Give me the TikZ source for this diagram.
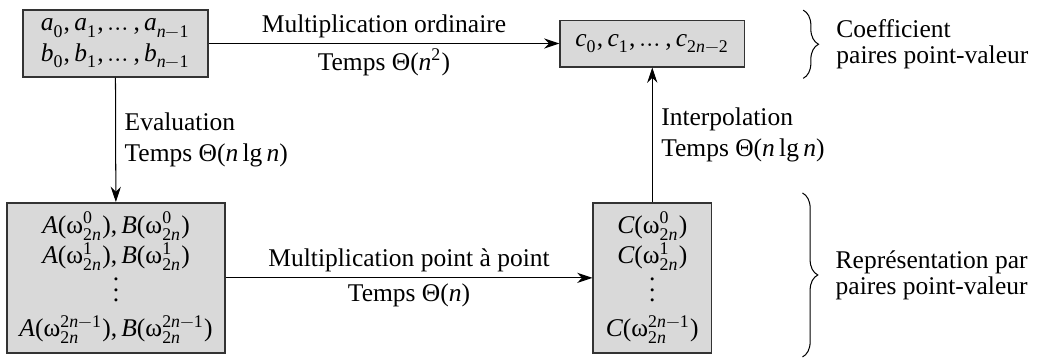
\documentclass[tikz,border=0pt]{standalone}
\usepackage{unicode-math}
\setmainfont{Liberation Serif}
\setmathfont{Latin Modern Math}
\setmathfont{Liberation Serif}[range={up/{latin,Latin,num,greek,Greek},"0028,"0029,"002C}]
\setmathfont{Liberation Serif Italic}[range={it/{latin,Latin}->up}]
\usetikzlibrary{arrows.meta,decorations.pathreplacing}
\newcommand{\colvdots}{\vbox{\baselineskip4pt\lineskiplimit0pt\kern2pt\hbox{.}\hbox{.}\hbox{.}}}

\begin{document}
\begin{tikzpicture}[
  font=\normalsize,
  >={Stealth[length=6pt,width=4pt]},
  every node/.style={align=center},
  box/.style={draw=black!80, line width=0.6pt, fill=black!15, inner sep=1pt},
  lbl/.style={align=left},
  brtxt/.style={align=left, font=\fontsize{10pt}{10.2pt}\selectfont},
  arr/.style={->, thin},
  brc/.style={decorate, decoration={brace, amplitude=6pt}, thin}
]
\useasboundingbox (0,0) rectangle (14.43,4.95);

% coefficient form
\node[box, minimum width=2.55cm, minimum height=0.92cm] (coefab) at (1.59,4.35)
  {$a_0, a_1, \ldots, a_{n-1}$\\ $b_0, b_1, \ldots, b_{n-1}$};
\node[box, minimum width=2.54cm, minimum height=0.64cm] (coefc) at (8.99,4.35)
  {$c_0, c_1, \ldots, c_{2n-2}$};

% point-value form
\node[box, minimum width=3.0cm, minimum height=2.07cm] (valab) at (1.60,1.12)
  {$A(\upomega_{2n}^{0}), B(\upomega_{2n}^{0})$\\
   $A(\upomega_{2n}^{1}), B(\upomega_{2n}^{1})$\\
   \colvdots\\[2pt]
   $A(\upomega_{2n}^{2n-1}), B(\upomega_{2n}^{2n-1})$};
\node[box, minimum width=1.63cm, minimum height=2.07cm] (valc) at (8.99,1.12)
  {$C(\upomega_{2n}^{0})$\\
   $C(\upomega_{2n}^{1})$\\
   \colvdots\\[2pt]
   $C(\upomega_{2n}^{2n-1})$};

\draw[arr] (coefab) -- (coefc)
  node[midway, above, inner sep=2pt] (mulord) {Multiplication ordinaire}
  node[midway, below, inner sep=2pt] (tmpord) {Temps $\Theta(n^2)$};
\draw[arr] (coefab) -- (valab)
  node[midway, right, lbl] (evallbl) {Evaluation\\ Temps $\Theta(n \lg n)$};
\draw[arr] (valab) -- (valc)
  node[midway, above, inner sep=2pt] (mulpt) {Multiplication point à point}
  node[midway, below, inner sep=2pt] (tmppt) {Temps $\Theta(n)$};
\draw[arr] (valc) -- (coefc)
  node[midway, right, lbl] (interlbl) {Interpolation\\ Temps $\Theta(n \lg n)$};

% braces
\coordinate (coeftop) at (11.07,4.81);
\coordinate (coefbot) at (11.07,3.87);
\coordinate (valtop) at (11.06,2.29);
\coordinate (valbot) at (11.06,0.03);
\draw[brc] (coeftop) -- (coefbot)
  node[midway, right, brtxt, xshift=9.5pt] (coeftxt) {Coefficient\\ paires point-valeur};
\draw[brc] (valtop) -- (valbot)
  node[midway, right, brtxt, xshift=9.5pt] (valtxt) {Représentation par\\ paires point-valeur};
\end{tikzpicture}
\end{document}
